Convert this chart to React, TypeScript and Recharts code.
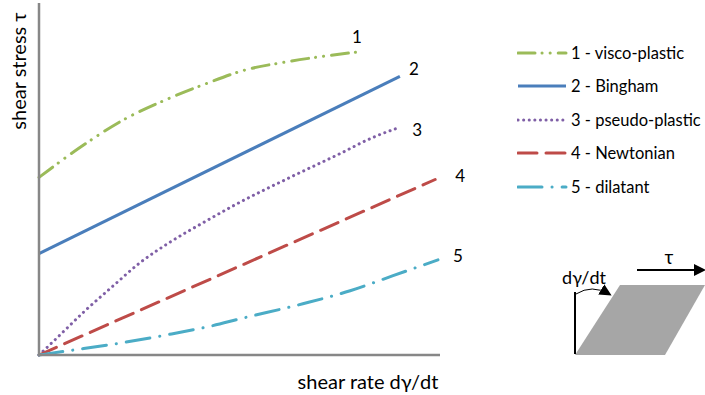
import React from "react";
import { LineChart, Line, XAxis, YAxis } from "recharts";

// shear rate (x) and shear stress (y), 0..100 scale
const viscoX = [0, 10.2, 20.9, 32.4, 41.9, 51.1, 61.1, 69.6, 79.3];
const viscoY = [50.6, 59.1, 66.9, 73.1, 77.4, 81.1, 83.4, 84.9, 86.3];
const binghamX = [0, 90];
const binghamY = [28.9, 79.4];
const pseudoX = [0, 4.5, 11.2, 18.2, 25.2, 32.9, 41.4, 49.4, 62.6, 75.1, 83.3, 89.3];
const pseudoY = [0, 4.9, 12.3, 19.4, 26.3, 32.3, 38, 43.1, 50.6, 57.4, 62, 64.6];
const newtonX = [0, 98.8];
const newtonY = [0, 50];
const dilatantX = [0, 8.5, 20.2, 31.7, 43.1, 50.1, 65.8, 77.6, 88.3, 99.5];
const dilatantY = [0, 1.4, 3.4, 5.7, 8.3, 10.3, 14.6, 18.3, 22.6, 27.1];

const seriesNames = ["1 - visco-plastic", "2 - Bingham", "3 - pseudo-plastic", "4 - Newtonian", "5 - dilatant"];
const endLabels = ["1", "2", "3", "4", "5"];

const FONT = "Lato, 'Liberation Sans', sans-serif";
const AXIS = "#878787";

const toRows = (xs: number[], ys: number[]) => xs.map((x, i) => ({ x, y: ys[i] }));

const series = [
  { data: toRows(viscoX, viscoY), color: "#9BBB59", dash: "17 7 0.1 8 0.1 8", dx: 0, dy: -16 },
  { data: toRows(binghamX, binghamY), color: "#4A7EBB", dash: undefined, dx: 14, dy: -8 },
  { data: toRows(pseudoX, pseudoY), color: "#7F5FA6", dash: "0.1 5.5", dx: 20, dy: 1 },
  { data: toRows(newtonX, newtonY), color: "#BE4B48", dash: "19 9", dx: 25, dy: -4 },
  { data: toRows(dilatantX, dilatantY), color: "#4BACC6", dash: "24 10 0.1 10", dx: 20, dy: -4 },
];

function endLabel(text: string, last: number, dx: number, dy: number) {
  return (props: any) => {
    if (props.index !== last) return <g />;
    return (
      <text x={props.x + dx} y={props.y + dy} textAnchor="middle" dominantBaseline="central" fontSize={17} fontFamily={FONT} fill="#000">
        {text}
      </text>
    );
  };
}

function Legend() {
  return (
    <div style={{ position: "absolute", left: 517, top: 36, fontFamily: FONT, fontSize: 16.5 }}>
      {series.map((s, i) => (
        <div key={i} style={{ display: "flex", alignItems: "center", height: 33.5 }}>
          <svg width={52} height={10}>
            <line x1={1} y1={5} x2={49} y2={5} stroke={s.color} strokeWidth={3} strokeDasharray={s.dash} strokeLinecap={s.dash ? "round" : "butt"} />
          </svg>
          <span style={{ marginLeft: 2 }}>{seriesNames[i]}</span>
        </div>
      ))}
    </div>
  );
}

function ShearSketch() {
  return (
    <svg width={705} height={395} style={{ position: "absolute", left: 0, top: 0, pointerEvents: "none" }}>
      <defs>
        <marker id="head2" markerWidth={12} markerHeight={12} refX={9} refY={6} orient="auto" markerUnits="userSpaceOnUse">
          <path d="M0,0 L12,6 L0,12 z" fill="#000" />
        </marker>
      </defs>
      <line x1={39} y1={3} x2={39} y2={355} stroke={AXIS} strokeWidth={2.5} />
      <line x1={38} y1={355} x2={440} y2={355} stroke={AXIS} strokeWidth={2.5} />
      <polygon points="575,355 665,355 705,285 620,285" fill="#A6A6A6" />
      <line x1={575} y1={292} x2={575} y2={354} stroke="#000" strokeWidth={2} />
      <path d="M576,294 Q592,284 609,294" fill="none" stroke="#000" strokeWidth={1} markerEnd="url(#head2)" />
      <text x={584} y={277} textAnchor="middle" dominantBaseline="central" fontSize={18} fontFamily={FONT}>dγ/dt</text>
      <line x1={637} y1={270} x2={703} y2={270} stroke="#000" strokeWidth={2} markerEnd="url(#head2)" />
      <text x={669} y={256} textAnchor="middle" dominantBaseline="central" fontSize={19} fontFamily={FONT}>τ</text>
      <text x={368} y={381} textAnchor="middle" dominantBaseline="central" fontSize={20} fontFamily={FONT}>shear rate dγ/dt</text>
      <text x={18} y={71} transform="rotate(-90 18 71)" textAnchor="middle" dominantBaseline="central" fontSize={20} fontFamily={FONT}>shear stress τ</text>
    </svg>
  );
}

export default function App() {
  return (
    <div style={{ position: "absolute", left: 0, top: 0, width: 705, height: 395, background: "#fff" }}>
      <LineChart width={705} height={395} margin={{ top: 4, right: 265, bottom: 40, left: 39 }}>
        <XAxis type="number" dataKey="x" domain={[0, 100]} hide allowDuplicatedCategory={false} />
        <YAxis type="number" dataKey="y" domain={[0, 100]} hide />
        {series.map((s, i) => (
          <Line
            key={i}
            data={s.data}
            dataKey="y"
            type="monotone"
            stroke={s.color}
            strokeWidth={3}
            strokeDasharray={s.dash}
            strokeLinecap={s.dash ? "round" : "butt"}
            dot={false}
            activeDot={false}
            isAnimationActive={false}
            label={endLabel(endLabels[i], s.data.length - 1, s.dx, s.dy)}
          />
        ))}
      </LineChart>
      <Legend />
      <ShearSketch />
    </div>
  );
}
